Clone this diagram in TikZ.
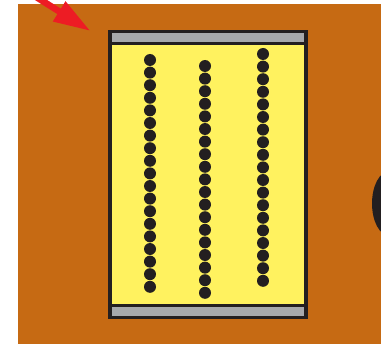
\documentclass[tikz,border=0pt]{standalone}
\usepackage{xcolor}
\usetikzlibrary{shapes.geometric, arrows.meta, positioning}

\definecolor{boardbrown}{HTML}{C66A13}
\definecolor{padyellow}{HTML}{FFF25F}
\definecolor{bargray}{HTML}{A7A9AC}
\definecolor{inkdark}{HTML}{231F20}
\definecolor{pointerred}{HTML}{ED1C24}

\begin{document}
\begin{tikzpicture}[
        x=0.02cm, y=-0.02cm,
        % Styles
        board/.style={
            rectangle, fill=boardbrown, inner sep=0pt, outer sep=0pt,
            minimum width=7.26cm, minimum height=6.8cm
        },
        frame/.style={
            rectangle, draw=inkdark, line width=0.07cm, fill=padyellow,
            inner sep=0pt, outer sep=0pt,
            minimum width=3.93cm, minimum height=5.72cm
        },
        bar/.style={
            rectangle, draw=inkdark, line width=0.07cm, fill=bargray,
            inner sep=0pt, outer sep=0pt,
            minimum width=3.93cm, minimum height=0.24cm
        },
        pin/.style={
            circle, fill=inkdark, inner sep=0pt, minimum size=0.24cm
        },
        blob/.style={
            ellipse, fill=inkdark, inner sep=0pt,
            minimum width=0.68cm, minimum height=1.28cm
        },
        pointer/.style={
            -{Triangle[length=0.74cm, width=0.44cm]},
            draw=pointerred, line width=0.13cm
        }
    ]

        \clip (0,0) rectangle (381,344);

        % Background
        \node[board, anchor=north west] (board) at (18,4) {};
        \node[blob] (blob) at (389,203.5) {};

        % Frame and bars
        \node[frame] (frame) at (208,174.6) {};
        \node[bar, anchor=north] (top_bar) at (frame.north) {};
        \node[bar, anchor=south] (bottom_bar) at (frame.south) {};

        % Pins
        \foreach \col/\xpos/\ystart in {a/150/60, b/205/66, c/263/54} {
            \foreach \i in {0,...,18} {
                \node[pin] (pin_\col\i) at (\xpos, \ystart+12.6*\i) {};
            }
        }

        % Pointer
        \coordinate (pointer_start) at (25,-10);
        \coordinate (pointer_tip) at (90.5,31);
        \draw[pointer] (pointer_start) -- (pointer_tip);

    \end{tikzpicture}
\end{document}
